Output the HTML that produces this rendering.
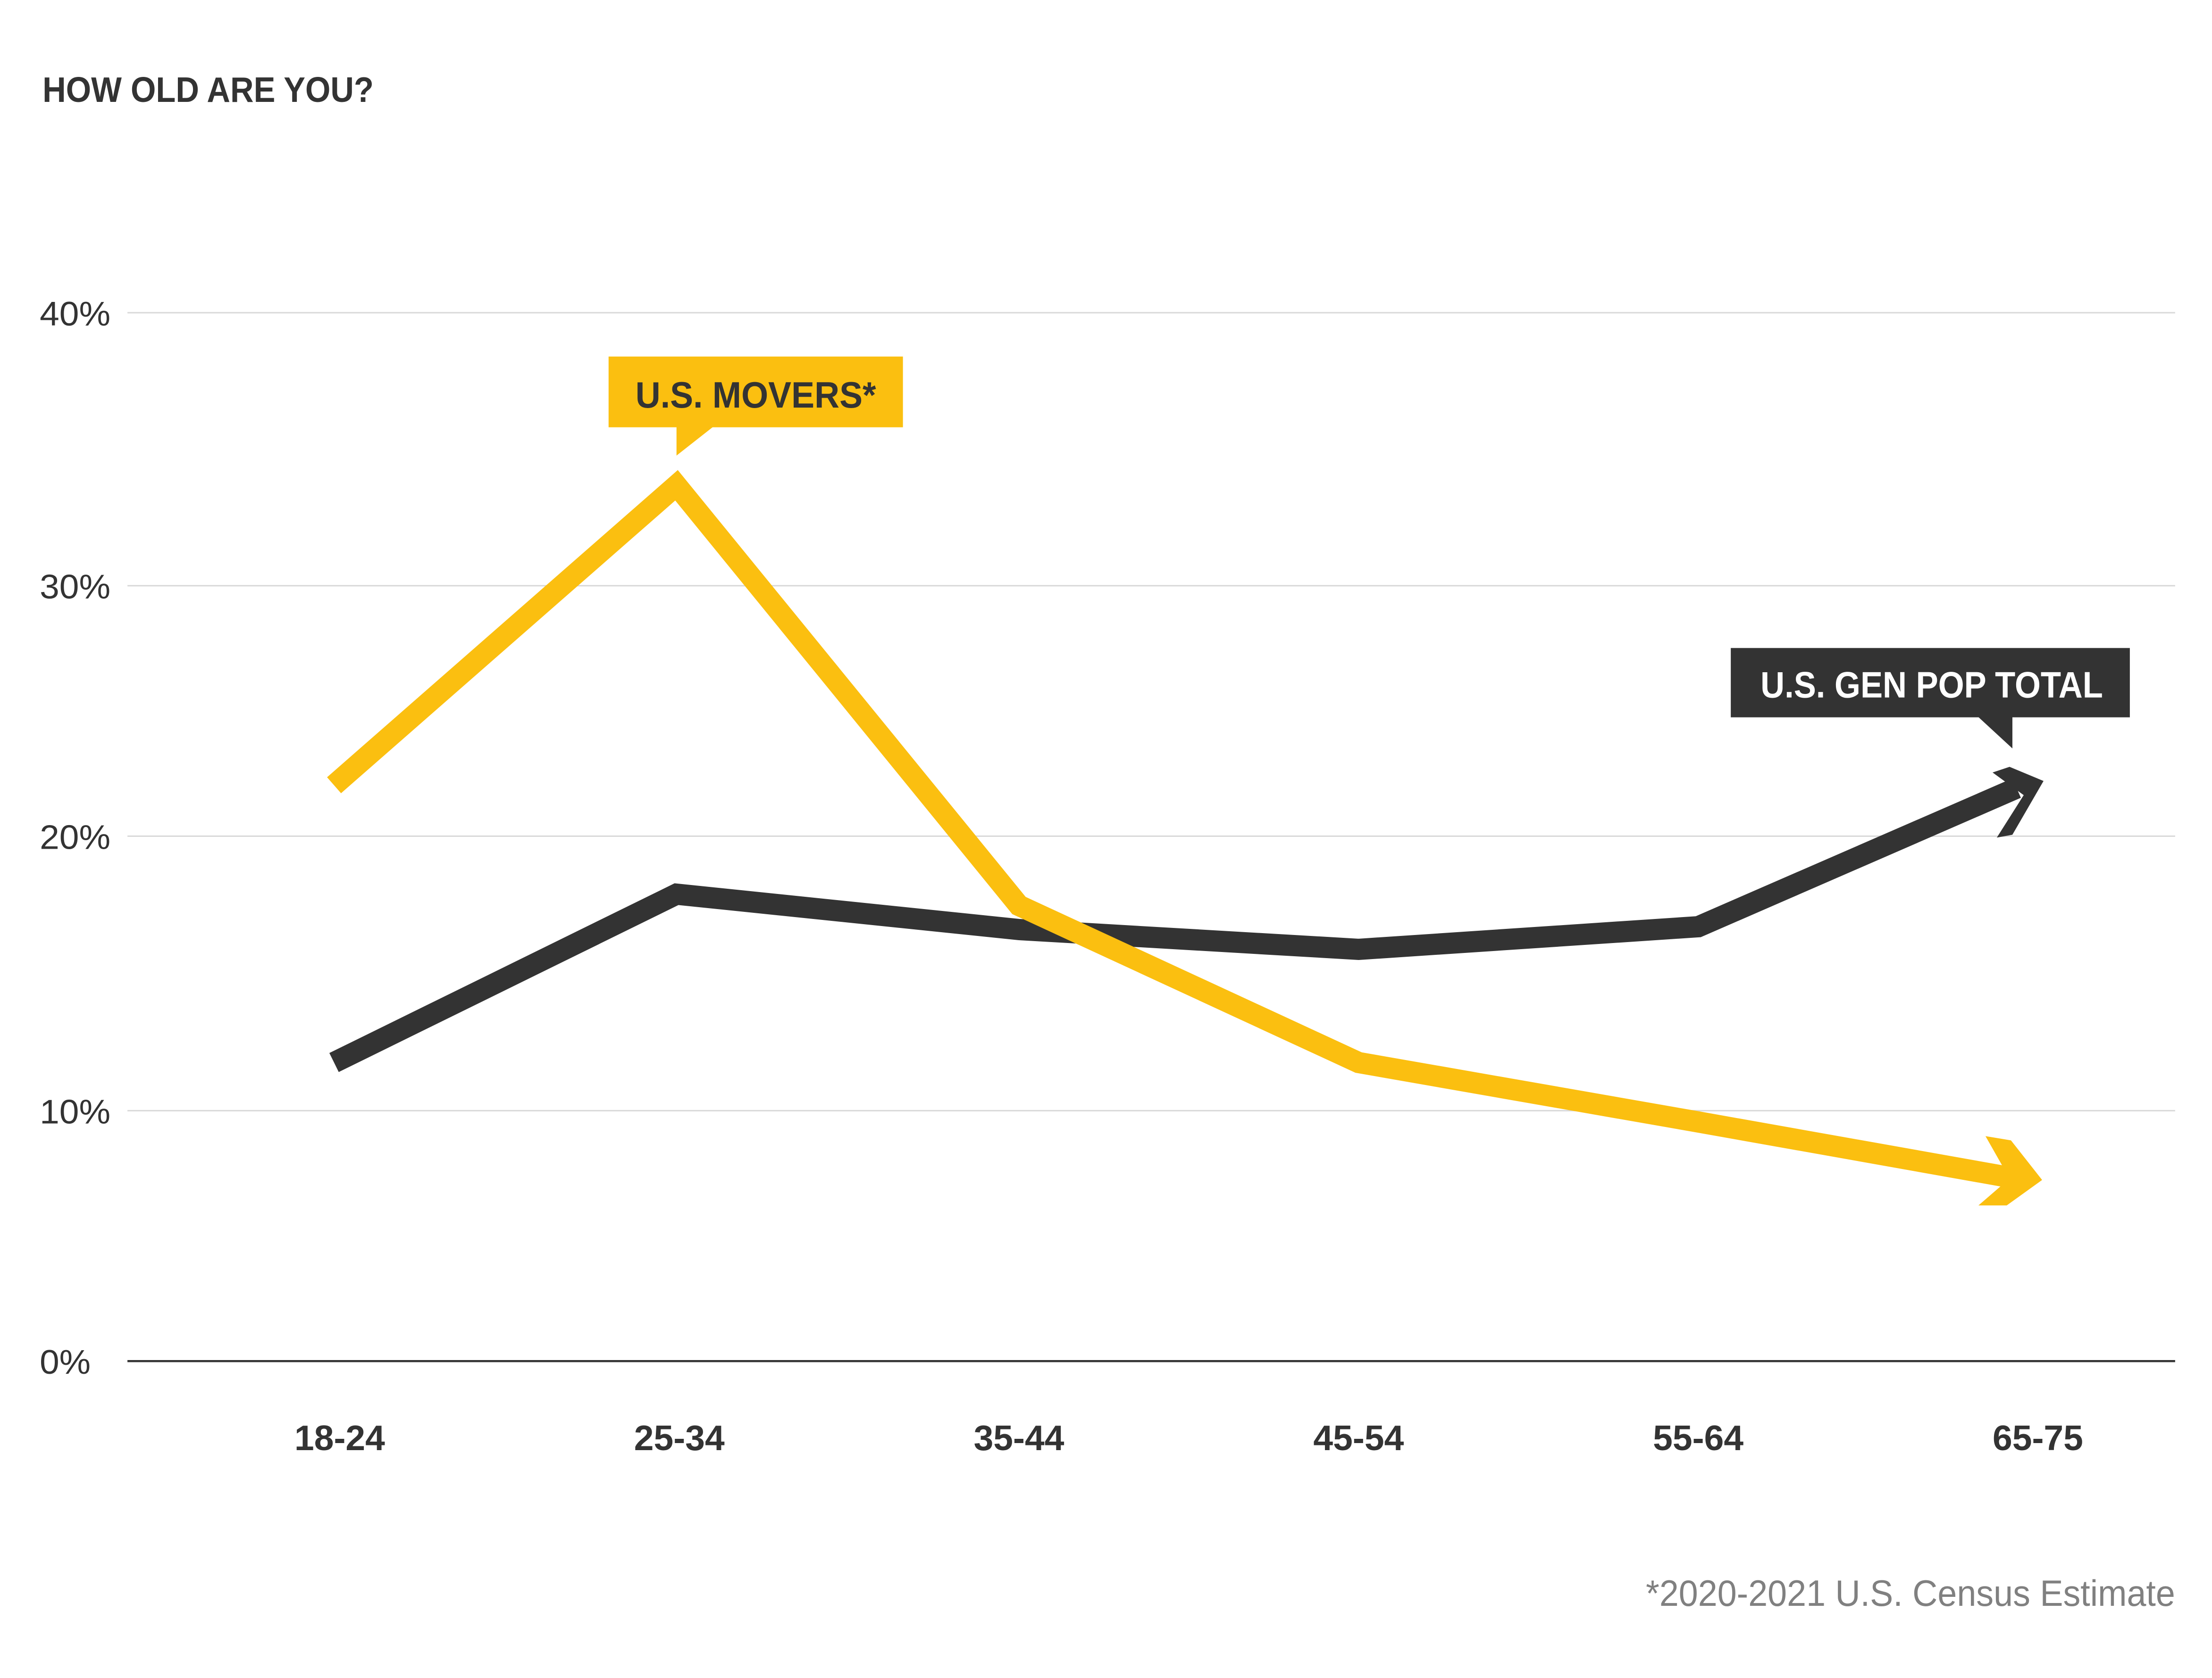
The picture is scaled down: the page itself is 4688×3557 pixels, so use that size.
<!DOCTYPE html>
<html><head><meta charset="utf-8"><style>
html,body{margin:0;padding:0;background:#fff}
svg{display:block}
text{font-family:"Liberation Sans",sans-serif}
</style></head><body>
<svg width="4688" height="3557" viewBox="0 0 1563 1186" xmlns="http://www.w3.org/2000/svg">
<rect width="1563" height="1186" fill="#fff"/>
<text x="30" y="72" font-size="25" font-weight="bold" fill="#333" textLength="234" lengthAdjust="spacingAndGlyphs">HOW OLD ARE YOU?</text>
<g stroke="#d9d9d9" stroke-width="1">
<line x1="90" y1="221" x2="1537" y2="221"/>
<line x1="90" y1="414" x2="1537" y2="414"/>
<line x1="90" y1="591" x2="1537" y2="591"/>
<line x1="90" y1="785" x2="1537" y2="785"/>
</g>
<line x1="90" y1="962" x2="1537" y2="962" stroke="#333" stroke-width="1.5"/>
<g font-size="24" fill="#333">
<text x="28" y="230" textLength="50" lengthAdjust="spacingAndGlyphs">40%</text>
<text x="28" y="423" textLength="50" lengthAdjust="spacingAndGlyphs">30%</text>
<text x="28" y="600" textLength="50" lengthAdjust="spacingAndGlyphs">20%</text>
<text x="28" y="794" textLength="50" lengthAdjust="spacingAndGlyphs">10%</text>
<text x="28" y="971" textLength="36" lengthAdjust="spacingAndGlyphs">0%</text>
</g>
<g font-size="25" font-weight="bold" fill="#333">
<text x="208" y="1025" textLength="64" lengthAdjust="spacingAndGlyphs">18-24</text>
<text x="448" y="1025" textLength="64" lengthAdjust="spacingAndGlyphs">25-34</text>
<text x="688" y="1025" textLength="64" lengthAdjust="spacingAndGlyphs">35-44</text>
<text x="928" y="1025" textLength="64" lengthAdjust="spacingAndGlyphs">45-54</text>
<text x="1168" y="1025" textLength="64" lengthAdjust="spacingAndGlyphs">55-64</text>
<text x="1408" y="1025" textLength="64" lengthAdjust="spacingAndGlyphs">65-75</text>
</g>
<polyline points="236,751 478,632 720,657 960,671 1200,655 1425,557" fill="none" stroke="#333" stroke-width="15" stroke-linejoin="miter"/>
<polygon points="1408,546 1420,542 1444,552 1422,590 1411,592 1430,562" fill="#333"/>
<polyline points="236,555 478,343 720,640 960,751 1200,793 1425,833" fill="none" stroke="#fbbf10" stroke-width="15" stroke-linejoin="miter"/>
<polygon points="1403,803 1421,806 1443,834 1418,852 1398,852 1420,833" fill="#fbbf10"/>
<rect x="430" y="252" width="208" height="50" fill="#fbbf10"/>
<polygon points="478,300 506,300 478,322" fill="#fbbf10"/>
<text x="449" y="288" font-size="26" font-weight="bold" fill="#333" textLength="170" lengthAdjust="spacingAndGlyphs">U.S. MOVERS*</text>
<rect x="1223" y="458" width="282" height="49" fill="#333"/>
<polygon points="1396,505 1422,505 1422,529" fill="#333"/>
<text x="1244" y="493" font-size="26" font-weight="bold" fill="#fff" textLength="242" lengthAdjust="spacingAndGlyphs">U.S. GEN POP TOTAL</text>
<text x="1163" y="1135" font-size="26" fill="#808080" textLength="374" lengthAdjust="spacingAndGlyphs">*2020-2021 U.S. Census Estimate</text>
</svg>
</body></html>
